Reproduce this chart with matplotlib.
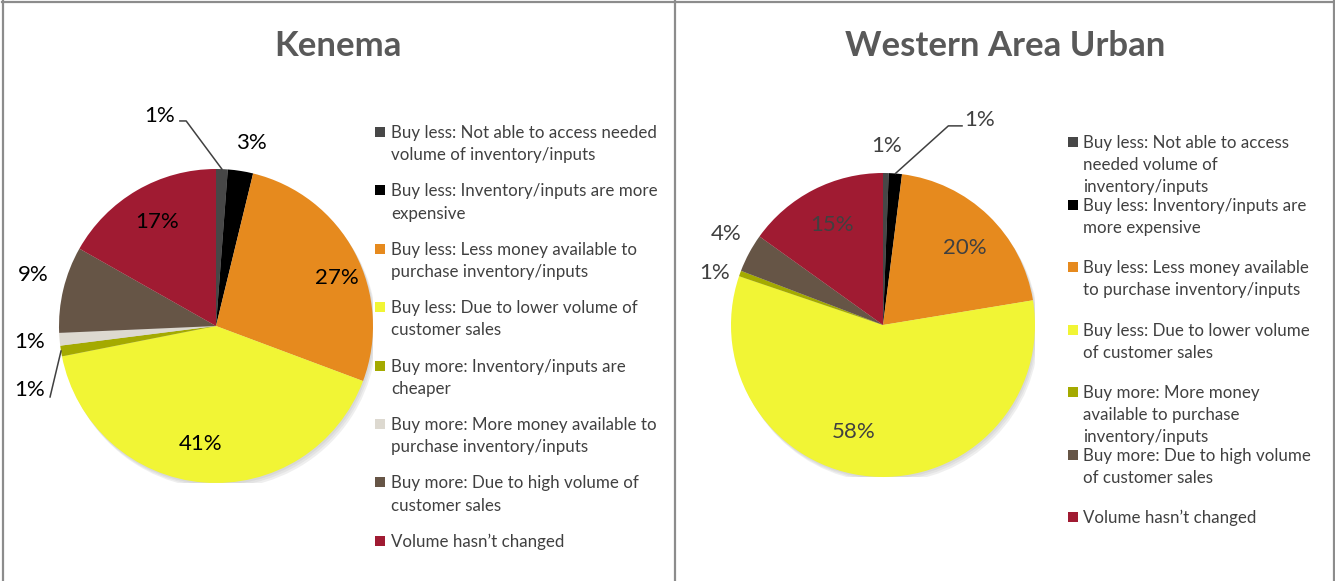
import numpy as np
import matplotlib.pyplot as plt
from matplotlib.patches import Rectangle, Circle
from matplotlib.lines import Line2D

plt.rcParams["font.family"] = ["Lato", "DejaVu Sans"]

W, H = 1335, 581

# Kenema
KEN_TITLE = "Kenema"
KEN_LABELS = [
    "Buy less: Not able to access needed\nvolume of inventory/inputs",
    "Buy less: Inventory/inputs are more\nexpensive",
    "Buy less: Less money available to\npurchase inventory/inputs",
    "Buy less: Due to lower volume of\ncustomer sales",
    "Buy more: Inventory/inputs are\ncheaper",
    "Buy more: More money available to\npurchase inventory/inputs",
    "Buy more: Due to high volume of\ncustomer sales",
    "Volume hasn\u2019t changed",
]
KEN_VALUES = [1.2, 2.6, 26.9, 41.2, 1.1, 1.3, 8.9, 16.8]
KEN_COLORS = ["#474747", "#000000", "#E68A1E", "#F1F535", "#A4AA00",
              "#DDD9D0", "#665546", "#A01B32"]

# Western Area Urban
WAU_TITLE = "Western Area Urban"
WAU_LABELS = [
    "Buy less: Not able to access\nneeded volume of\ninventory/inputs",
    "Buy less: Inventory/inputs are\nmore expensive",
    "Buy less: Less money available\nto purchase inventory/inputs",
    "Buy less: Due to lower volume\nof customer sales",
    "Buy more: More money\navailable to purchase\ninventory/inputs",
    "Buy more: Due to high volume\nof customer sales",
    "Volume hasn\u2019t changed",
]
WAU_VALUES = [0.6, 1.4, 20.4, 57.8, 0.6, 4.1, 15.1]
WAU_COLORS = ["#474747", "#000000", "#E68A1E", "#F1F535", "#A4AA00",
              "#665546", "#A01B32"]

BORDER = "#8C8C8C"

fig = plt.figure(figsize=(W / 100, H / 100), dpi=100)


def px_rect(x, y, w, h):
    # pixel box (top-left origin) -> figure fraction
    return [x / W, 1 - (y + h) / H, w / W, h / H]


def draw_pie(cx, cy, r, values, colors, label_r, label_dang, leaders, text_color):
    ax = fig.add_axes(px_rect(cx - r, cy - r, 2 * r, 2 * r))
    # soft shadow under the pie
    for k, a in enumerate([0.10, 0.10, 0.12]):
        ax.add_patch(Circle((0.008 * (k + 1), -0.012 * (k + 1)), 1.0,
                            color="#7f7f7f", alpha=a, lw=0, zorder=0))
    wedges, _ = ax.pie(values, colors=colors, startangle=90, counterclock=False,
                       radius=1, wedgeprops=dict(linewidth=0))
    for w in wedges:
        w.set_zorder(2)
    ax.set_xlim(-1, 1)
    ax.set_ylim(-1, 1)
    ax.axis("off")

    for i, (w, v) in enumerate(zip(wedges, values)):
        mid = np.deg2rad((w.theta1 + w.theta2) / 2)
        txt = f"{v:.0f}%"
        if i in leaders:
            lx, ly, path = leaders[i]
            ax.text(lx, ly, txt, ha="center", va="center", fontsize=16,
                    color=text_color, clip_on=False, zorder=5)
            ex, ey = np.cos(mid), np.sin(mid)
            xs = [p[0] for p in path] + [ex]
            ys = [p[1] for p in path] + [ey]
            ax.add_line(Line2D(xs, ys, color="#404040", lw=1.1,
                               clip_on=False, zorder=4))
        else:
            a = mid - np.deg2rad(label_dang[i])
            rr = label_r[i]
            ax.text(rr * np.cos(a), rr * np.sin(a), txt, ha="center", va="center",
                    fontsize=16, color=text_color, clip_on=False, zorder=5)
    return ax


def draw_legend(labels, colors, x_box, x_text, y0, step):
    for i, (lab, col) in enumerate(zip(labels, colors)):
        yc = y0 + i * step
        fig.add_artist(Rectangle((x_box / W, 1 - (yc + 5) / H), 10 / W, 10 / H,
                                 transform=fig.transFigure, color=col, lw=0))
        fig.text(x_text / W, 1 - (yc - 7) / H, lab, ha="left", va="top",
                 fontsize=12.2, color="#404040", linespacing=1.48)


# panel borders
for xs, ys in [([3, 3], [0, H]), ([2, W - 1], [1.5, 1.5]),
               ([674.5, 674.5], [0, H]), ([W - 1.5, W - 1.5], [0, H])]:
    fig.add_artist(Line2D([x / W for x in xs], [1 - y / H for y in ys],
                          transform=fig.transFigure, color=BORDER, lw=1.6))

# titles
fig.text(338 / W, 1 - 46 / H, KEN_TITLE, ha="center", va="center",
         fontsize=25, weight="bold", color="#595959")
fig.text(1005 / W, 1 - 46 / H, WAU_TITLE, ha="center", va="center",
         fontsize=25, weight="bold", color="#595959")

# Kenema pie
draw_pie(216, 326, 157, KEN_VALUES, KEN_COLORS,
         label_r=[0, 1.19, 0.83, 0.76, 0, 1.19, 1.21, 0.76],
         label_dang=[0, 2, 6.5, 2.8, 0, 0, 2, 0.5],
         leaders={0: (-0.357, 1.338, [(-0.23, 1.306), (-0.19, 1.306)]),
                  4: (-1.185, -0.408, [(-1.057, -0.452)])},
         text_color="#000000")
draw_legend(KEN_LABELS, KEN_COLORS, 375, 391, 132, 58.4)

# Western Area Urban pie
draw_pie(883, 325, 152, WAU_VALUES, WAU_COLORS,
         label_r=[1.18, 0, 0.74, 0.73, 1.16, 1.19, 0.74],
         label_dang=[0, 0, 2.7, 10.7, -2.6, 1.9, 0.4],
         leaders={1: (0.638, 1.349, [(0.52, 1.31), (0.43, 1.31)])},
         text_color="#404040")
draw_legend(WAU_LABELS, WAU_COLORS, 1068, 1083, 142, 62.5)

fig.savefig("out.png", dpi=100)
